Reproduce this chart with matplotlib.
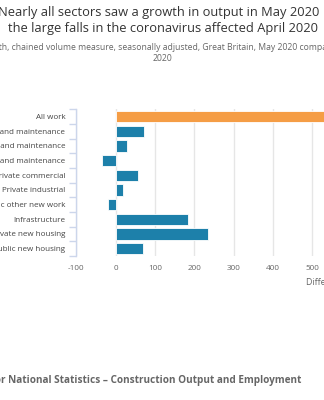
import matplotlib
matplotlib.use("Agg")
import matplotlib.pyplot as plt
from matplotlib.ticker import FixedLocator

plt.rcParams["font.family"] = ["Open Sans", "DejaVu Sans"]

# Contributions to monthly change, £ million (bottom to top)
categories = [
    "Public new housing",
    "Private new housing",
    "Infrastructure",
    "Public other new work",
    "Private industrial",
    "Private commercial",
    "Public housing repair and maintenance",
    "Private housing repair and maintenance",
    "Non-housing repair and maintenance",
    "All work",
]
values = [70, 235, 185, -19, 18, 57, -35, 30, 72, 613]
x_ticks = [-100, 0, 100, 200, 300, 400, 500, 600]

title_lines = [
    "Nearly all sectors saw a growth in output in May 2020",
    "the large falls in the coronavirus affected April 2020",
]
subtitle_lines = [
    "Monthly growth, chained volume measure, seasonally adjusted, Great Britain, May 2020 compared with April",
    "2020",
]
source_text = "Source: Office for National Statistics \u2013 Construction Output and Employment"
x_label = "Difference (\u00a3 million)"

BLUE = "#1d80aa"
ORANGE = "#f59d45"
W, H = 324, 400

fig = plt.figure(figsize=(W / 100, H / 100), dpi=100)
fig.patch.set_facecolor("white")

# plot area: -100 sits on the axis line at x=76.4px, 0.393 px per unit
x0_px = 76.4
ppu = 0.393
xmin, xmax = -100, 650
ax_w = (xmax - xmin) * ppu
ax_top, ax_bot = 109.3, 256.0
ax = fig.add_axes([x0_px / W, 1 - ax_bot / H, ax_w / W, (ax_bot - ax_top) / H])

ypos = list(range(len(categories)))
colors = [ORANGE if c == "All work" else BLUE for c in categories]
ax.barh(ypos, values, height=0.78, color=colors, edgecolor="#ffffff", linewidth=0.6,
        zorder=3)

ax.set_xticks(x_ticks)
ax.set_xticklabels([str(t) for t in x_ticks])
ax.set_yticks(ypos)
ax.set_yticklabels(categories)
ax.yaxis.set_minor_locator(FixedLocator([i + 0.5 for i in range(-1, len(categories))]))
ax.set_xlim(xmin, xmax)
ax.set_ylim(-0.5, len(categories) - 0.5)

ax.grid(axis="x", color="#e6e6e6", linewidth=1.0, zorder=0)
ax.set_axisbelow(True)
for s in ["top", "right", "bottom"]:
    ax.spines[s].set_visible(False)
ax.spines["left"].set_color("#ccd6eb")
ax.spines["left"].set_linewidth(1.0)

ax.tick_params(axis="x", length=0, pad=6.5, labelsize=5.9, labelcolor="#666666")
ax.tick_params(axis="y", which="major", length=0, pad=8.0, labelsize=5.8,
               labelcolor="#444444")
ax.tick_params(axis="y", which="minor", length=5, width=1.0, color="#ccd6eb")

# titles
fig.text(-1.5 / W, 1 - 12.5 / H, title_lines[0], ha="left", va="center",
         fontsize=9.3, color="#333333")
fig.text(162.5 / W, 1 - 28.5 / H, title_lines[1], ha="center", va="center",
         fontsize=9.3, color="#333333")
fig.text(162 / W, 1 - 47.7 / H, subtitle_lines[0], ha="center", va="center",
         fontsize=6.2, color="#666666")
fig.text(162.3 / W, 1 - 58.3 / H, subtitle_lines[1], ha="center", va="center",
         fontsize=6.2, color="#666666")

fig.text(306.5 / W, 1 - 283 / H, x_label, ha="left", va="center",
         fontsize=6.3, color="#666666")

fig.text(301 / W, 1 - 380.5 / H, source_text, ha="right", va="center",
         fontsize=7.2, color="#666666", fontweight="bold")

fig.savefig("out.png", dpi=100)
